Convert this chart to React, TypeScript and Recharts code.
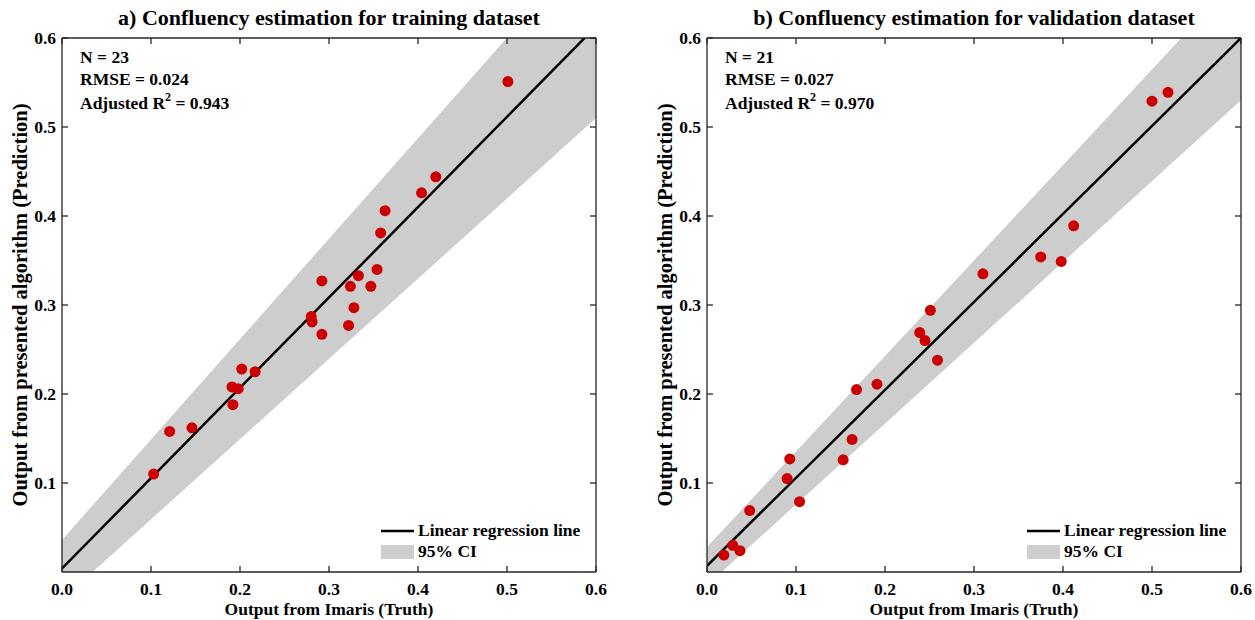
import React from "react"
import { Area, ComposedChart, Legend, Line, Scatter, XAxis, YAxis } from "recharts"

// a) training set: Imaris value vs predicted value
const trainTruth = [0.103, 0.121, 0.146, 0.191, 0.192, 0.198, 0.202, 0.217, 0.280, 0.281, 0.292, 0.292, 0.322, 0.324, 0.328, 0.333, 0.347, 0.354, 0.358, 0.363, 0.404, 0.420, 0.501]
const trainPred = [0.110, 0.158, 0.162, 0.208, 0.188, 0.206, 0.228, 0.225, 0.287, 0.281, 0.267, 0.327, 0.277, 0.321, 0.297, 0.333, 0.321, 0.340, 0.381, 0.406, 0.426, 0.444, 0.551]

// b) validation set
const valTruth = [0.019, 0.029, 0.037, 0.048, 0.090, 0.093, 0.104, 0.153, 0.163, 0.168, 0.191, 0.239, 0.245, 0.251, 0.259, 0.310, 0.375, 0.398, 0.412, 0.500, 0.518]
const valPred = [0.019, 0.030, 0.024, 0.069, 0.105, 0.127, 0.079, 0.126, 0.149, 0.205, 0.211, 0.269, 0.260, 0.294, 0.238, 0.335, 0.354, 0.349, 0.389, 0.529, 0.539]

// regression line and 95% CI band, read at the two ends of the x range
const fitX = [0, 0.6]
const trainFit = [0.004, 0.613]
const trainLower = [-0.031, 0.51]
const trainUpper = [0.036, 0.713]
const valFit = [0.007, 0.6]
const valLower = [-0.015, 0.53]
const valUpper = [0.028, 0.672]

const xTicks = [0, 0.1, 0.2, 0.3, 0.4, 0.5, 0.6]
const yTicks = [0.1, 0.2, 0.3, 0.4, 0.5, 0.6]

const FONT = "'Liberation Serif', 'Times New Roman', serif"
const AXIS = "#262626"
const RED = "#cc0000"
const GRAY = "#cdcdcd"
const TICK_LEN = 6

function BottomTick({ x, y, payload }: any) {
  return (
    <g>
      <line x1={x} x2={x} y1={y} y2={y - TICK_LEN} stroke={AXIS} strokeWidth={1.3} />
      <text x={x} y={y + 23} textAnchor="middle" fontFamily={FONT} fontWeight="bold" fontSize={17.5} fill="#000">
        {payload.value.toFixed(1)}
      </text>
    </g>
  )
}

function LeftTick({ x, y, payload }: any) {
  return (
    <g>
      <line x1={x} x2={x + TICK_LEN} y1={y} y2={y} stroke={AXIS} strokeWidth={1.3} />
      <text x={x - 6} y={y + 6} textAnchor="end" fontFamily={FONT} fontWeight="bold" fontSize={17.5} fill="#000">
        {payload.value.toFixed(1)}
      </text>
    </g>
  )
}

function TopTick({ x, y }: any) {
  return <line x1={x} x2={x} y1={y} y2={y + TICK_LEN} stroke={AXIS} strokeWidth={1.3} />
}

function RightTick({ x, y }: any) {
  return <line x1={x} x2={x - TICK_LEN} y1={y} y2={y} stroke={AXIS} strokeWidth={1.3} />
}

function Dot({ cx, cy }: any) {
  return <circle cx={cx} cy={cy} r={5.5} fill={RED} />
}

function LegendBox() {
  const row: React.CSSProperties = { display: "flex", alignItems: "center", height: 21 }
  const txt: React.CSSProperties = { fontFamily: FONT, fontWeight: "bold", fontSize: 17.5, marginLeft: 4, color: "#000", whiteSpace: "nowrap" }
  return (
    <div>
      <div style={row}>
        <svg width={33} height={14}>
          <line x1={0} x2={33} y1={7} y2={7} stroke="#000" strokeWidth={2.5} />
        </svg>
        <span style={txt}>Linear regression line</span>
      </div>
      <div style={row}>
        <svg width={33} height={14}>
          <rect x={0} y={0} width={33} height={14} fill={GRAY} />
        </svg>
        <span style={txt}>95% CI</span>
      </div>
    </div>
  )
}

interface PanelProps {
  left: number
  width: number
  yAxisWidth: number
  rightMargin: number
  legendLeft: number
  title: string
  n: number
  rmse: string
  r2: string
  truth: number[]
  pred: number[]
  fit: number[]
  lower: number[]
  upper: number[]
}

function Panel(p: PanelProps) {
  const points = p.truth.map((x, i) => ({ x, y: p.pred[i] }))
  const lineData = fitX.map((x, i) => ({ x, fit: p.fit[i], band: [p.lower[i], p.upper[i]] }))
  const textStyle = { fontFamily: FONT, fontWeight: "bold" as const, fill: "#000" }

  const header = ({ viewBox }: any) => (
    <g>
      <text x={viewBox.x + viewBox.width / 2} y={viewBox.y - 12} textAnchor="middle" fontSize={22} {...textStyle}>
        {p.title}
      </text>
      <text x={viewBox.x + 18} y={viewBox.y + 26} fontSize={17.5} {...textStyle}>N = {p.n}</text>
      <text x={viewBox.x + 18} y={viewBox.y + 48} fontSize={17.5} {...textStyle}>RMSE = {p.rmse}</text>
      <text x={viewBox.x + 18} y={viewBox.y + 72} fontSize={17.5} {...textStyle}>
        Adjusted R<tspan dy={-8} fontSize={12}>2</tspan>
        <tspan dy={8}> = {p.r2}</tspan>
      </text>
    </g>
  )

  const xLabel = ({ viewBox }: any) => (
    <text x={viewBox.x + viewBox.width / 2} y={viewBox.y + 43} textAnchor="middle" fontSize={17.5} {...textStyle}>
      Output from Imaris (Truth)
    </text>
  )

  const yLabel = ({ viewBox }: any) => {
    const bx = viewBox.x + viewBox.width - 35
    const cy = viewBox.y + viewBox.height / 2
    return (
      <text x={bx} y={cy} transform={`rotate(-90, ${bx}, ${cy})`} textAnchor="middle" fontSize={20.5} {...textStyle}>
        Output from presented algorithm (Prediction)
      </text>
    )
  }

  return (
    <div style={{ position: "absolute", left: p.left, top: 0 }}>
      <ComposedChart
        width={p.width}
        height={620}
        data={lineData}
        margin={{ top: 37, right: p.rightMargin, bottom: 0, left: 0 }}
      >
        <XAxis
          dataKey="x"
          type="number"
          domain={[0, 0.6]}
          ticks={xTicks}
          allowDataOverflow
          height={48}
          tickSize={0}
          tickMargin={0}
          tickLine={false}
          tick={<BottomTick />}
          axisLine={{ stroke: AXIS, strokeWidth: 1.3 }}
          label={{ content: xLabel }}
        />
        <XAxis
          xAxisId="top"
          orientation="top"
          dataKey="x"
          type="number"
          domain={[0, 0.6]}
          ticks={xTicks}
          allowDataOverflow
          height={1}
          tickSize={0}
          tickMargin={0}
          tickLine={false}
          tick={<TopTick />}
          axisLine={{ stroke: AXIS, strokeWidth: 1.3 }}
          label={{ content: header }}
        />
        <YAxis
          dataKey="y"
          type="number"
          domain={[0, 0.6]}
          ticks={yTicks}
          allowDataOverflow
          width={p.yAxisWidth}
          tickSize={0}
          tickMargin={0}
          tickLine={false}
          tick={<LeftTick />}
          axisLine={{ stroke: AXIS, strokeWidth: 1.3 }}
          label={{ content: yLabel }}
        />
        <YAxis
          yAxisId="right"
          orientation="right"
          type="number"
          domain={[0, 0.6]}
          ticks={yTicks}
          allowDataOverflow
          width={1}
          tickSize={0}
          tickMargin={0}
          tickLine={false}
          tick={<RightTick />}
          axisLine={{ stroke: AXIS, strokeWidth: 1.3 }}
        />
        <Area
          dataKey="band"
          type="linear"
          fill={GRAY}
          fillOpacity={1}
          stroke="none"
          isAnimationActive={false}
        />
        <Line dataKey="fit" type="linear" stroke="#000" strokeWidth={2.5} dot={false} isAnimationActive={false} />
        <Scatter data={points} fill={RED} shape={<Dot />} isAnimationActive={false} />
        <Legend
          layout="vertical"
          align="center"
          verticalAlign="middle"
          content={<LegendBox />}
          wrapperStyle={{ left: p.legendLeft, top: 520, width: "auto" }}
        />
      </ComposedChart>
    </div>
  )
}

export default function App() {
  return (
    <div style={{ position: "absolute", left: 0, top: 0, width: 1255, height: 620, background: "#fff" }}>
      <Panel
        left={0}
        width={627}
        yAxisWidth={62}
        rightMargin={30}
        legendLeft={381}
        title="a) Confluency estimation for training dataset"
        n={23}
        rmse="0.024"
        r2="0.943"
        truth={trainTruth}
        pred={trainPred}
        fit={trainFit}
        lower={trainLower}
        upper={trainUpper}
      />
      <Panel
        left={627}
        width={628}
        yAxisWidth={80}
        rightMargin={13}
        legendLeft={400}
        title="b) Confluency estimation for validation dataset"
        n={21}
        rmse="0.027"
        r2="0.970"
        truth={valTruth}
        pred={valPred}
        fit={valFit}
        lower={valLower}
        upper={valUpper}
      />
    </div>
  )
}
